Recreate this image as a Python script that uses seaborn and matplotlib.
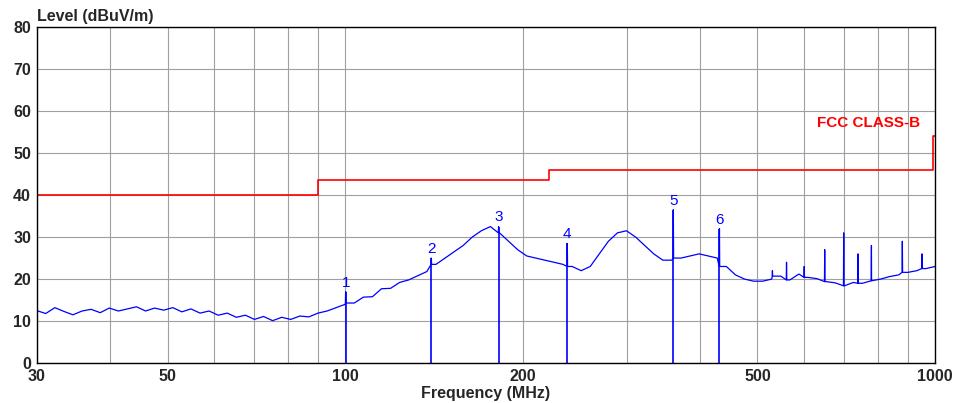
import numpy as np
import pandas as pd
import matplotlib
matplotlib.use("Agg")
import matplotlib.pyplot as plt
import seaborn as sns
from matplotlib.ticker import FixedLocator, FixedFormatter

sns.set_style("white")
plt.rcParams['font.family'] = ['Liberation Sans', 'DejaVu Sans']

grid_freqs = np.geomspace(30, 1000, 100)
levels = [12.5,11.8,13.2,12.3,11.5,12.4,12.8,12,13.1,12.4,
          12.9,13.4,12.4,13.1,12.6,13.2,12.2,12.9,11.9,12.4,
          11.4,11.9,10.9,11.4,10.4,11.1,10.1,10.9,10.4,11.2,
          11,11.9,12.4,13.2,14,
          14.3,15.7,15.8,17.7,17.8,19.2,19.8,20.8,21.8,23.5,
          25,26.5,28,30,31.5,32.5,31,29,
          27,25.5,25,24.5,24,23.5,23,22,
          23,26,29,31,31.5,30,28,26,24.5,24.5,
          25,25.5,26,25.5,25,23,21,20,19.5,19.5,
          20,20.7,19.8,21.2,20.4,20.1,19.4,19.1,18.4,19.2,
          19,19.6,20,20.6,21,21.6,22,22.5,23]
spike_freqs = [530, 560, 600, 650, 700, 740, 780, 880, 950]
spike_levels = [22, 24, 23, 27, 31, 26, 28, 29, 26]
marker_freqs = [100.2, 140, 182, 238, 360, 431]
marker_levels = [17, 25, 32.5, 28.5, 36.5, 32]
limit_freqs = [30, 90, 90, 222, 222, 990, 990, 1000]
limit_levels = [40, 40, 43.5, 43.5, 46, 46, 54, 54]

tf, tl = list(grid_freqs), list(levels)
for f, v in list(zip(spike_freqs, spike_levels)) + list(zip(marker_freqs, marker_levels)):
    i = int(np.searchsorted(grid_freqs, f))
    base = levels[min(i, 99)]
    tf += [f * 0.999, f, f * 1.001]
    tl += [base, v, base]
df = pd.DataFrame({"f": tf, "v": tl}).sort_values("f")

fig = plt.figure(figsize=(9.65, 4.03), dpi=100)
ax = fig.add_axes([0.038, 0.099, 0.931, 0.834])
ax.set_xscale("log")
sns.lineplot(data=df, x="f", y="v", ax=ax, color="#0000ff", lw=0.9, sort=False, estimator=None)
sns.lineplot(x=limit_freqs, y=limit_levels, ax=ax, color="#ff0000", lw=1.2, sort=False, estimator=None)
for i, (f, v) in enumerate(zip(marker_freqs, marker_levels)):
    ax.vlines(f, 0, v, color="#0000ff", lw=1.2)
    ax.text(f, v + 0.5, str(i + 1), color="#0000ff", ha="center", va="bottom", fontsize=11)
ax.text(945, 55.5, "FCC CLASS-B", color="#ff0000", ha="right", va="bottom", fontsize=11, fontweight="bold")

ax.set_xlim(30, 1000)
ax.set_ylim(0, 80)
gl = [30,40,50,60,70,80,90,100,200,300,400,500,600,700,800,900,1000]
ax.xaxis.set_major_locator(FixedLocator(gl))
ax.xaxis.set_minor_locator(FixedLocator([]))
ax.xaxis.set_major_formatter(FixedFormatter([str(g) if g in (30,50,100,200,500,1000) else "" for g in gl]))
ax.set_yticks(range(0, 81, 10))
ax.grid(True, color="#a0a0a0", lw=0.8)
for s in ax.spines.values():
    s.set_color("black"); s.set_linewidth(1)
ax.tick_params(labelsize=11.5, length=0, pad=4)
for lab in ax.get_xticklabels() + ax.get_yticklabels():
    lab.set_fontweight("bold")
ax.set_xlabel("Frequency (MHz)", fontsize=11.5, fontweight="bold", labelpad=2)
ax.set_ylabel("")
fig.text(0.038, 0.94, "Level (dBuV/m)", fontsize=11.5, fontweight="bold", ha="left", va="bottom")
fig.savefig("out.png", dpi=100)
